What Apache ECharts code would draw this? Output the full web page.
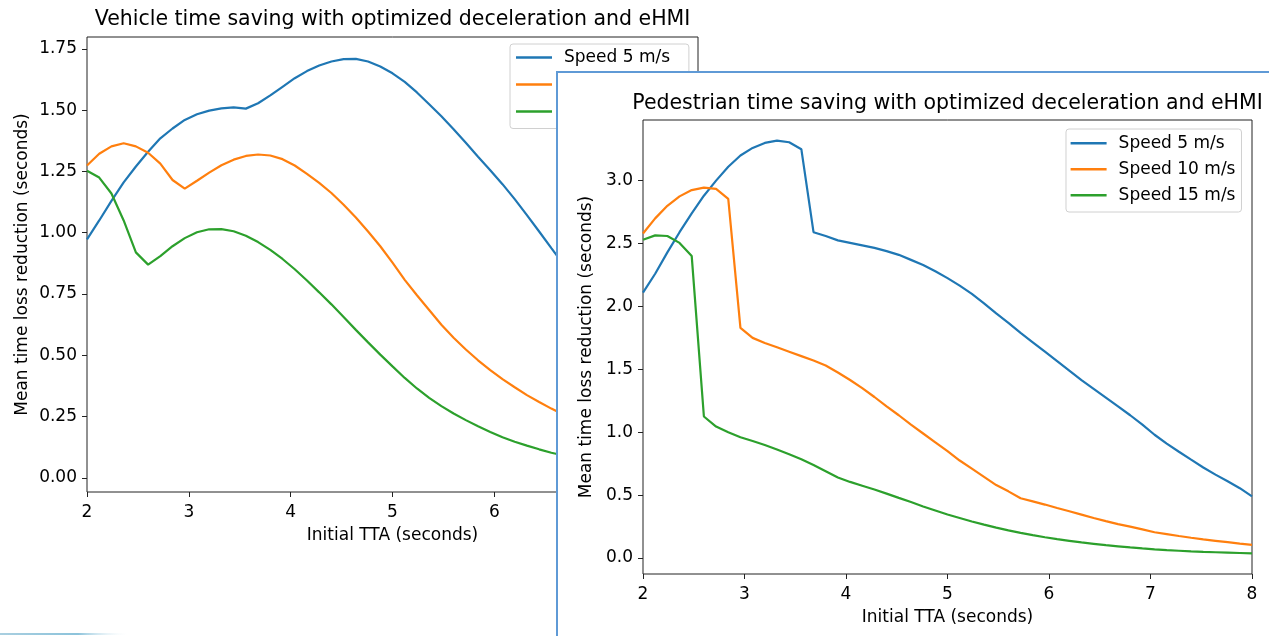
<!DOCTYPE html>
<html>
<head>
<meta charset="utf-8">
<script src="https://cdn.jsdelivr.net/npm/echarts@6/dist/echarts.min.js"></script>
<style>
  html, body { margin: 0; padding: 0; background: #fff; width: 1269px; height: 636px; overflow: hidden; }
  #left { position: absolute; left: 0; top: 0; width: 1269px; height: 636px; }
  #box { position: absolute; left: 556px; top: 71px; width: 713px; height: 565px; box-sizing: border-box;
         border-left: 2px solid #5f9ad6; border-top: 2px solid #5f9ad6; background: #fff; }
  #right { position: absolute; left: 558px; top: 73px; width: 711px; height: 563px; }
</style>
</head>
<body>
<div id="left"></div>
<div id="box"></div>
<div id="right"></div>
<script>
// Initial TTA (seconds)
const tta = [2.00, 2.12, 2.24, 2.36, 2.48, 2.60, 2.72, 2.84, 2.96, 3.08, 3.20, 3.32, 3.44, 3.56, 3.68, 3.80, 3.92,
  4.04, 4.16, 4.28, 4.40, 4.52, 4.64, 4.76, 4.88, 5.00, 5.12, 5.24, 5.36, 5.48, 5.60, 5.72, 5.84, 5.96,
  6.08, 6.20, 6.32, 6.44, 6.56, 6.68, 6.80, 6.92, 7.04, 7.16, 7.28, 7.40, 7.52, 7.64, 7.76, 7.88, 8.00];

const seriesNames = ['Speed 5 m/s', 'Speed 10 m/s', 'Speed 15 m/s'];
const seriesColors = ['#1f77b4', '#ff7f0e', '#2ca02c'];

// Vehicle time saving
const vehSpeed5 = [0.973, 1.05, 1.13, 1.205, 1.27, 1.33, 1.385, 1.425, 1.46, 1.483, 1.498, 1.507, 1.511, 1.506, 1.528, 1.560, 1.595,
  1.630, 1.659, 1.682, 1.698, 1.708, 1.709, 1.698, 1.678, 1.650, 1.615, 1.572, 1.524, 1.475, 1.422, 1.367, 1.310, 1.255,
  1.198, 1.137, 1.072, 1.005, 0.937, 0.870, 0.805, 0.745, 0.685, 0.630, 0.578, 0.530, 0.485, 0.445, 0.408, 0.375, 0.345];
const vehSpeed10 = [1.274, 1.322, 1.352, 1.365, 1.352, 1.326, 1.282, 1.215, 1.180, 1.212, 1.245, 1.275, 1.298, 1.313, 1.319, 1.315, 1.300,
  1.274, 1.240, 1.203, 1.162, 1.114, 1.062, 1.005, 0.945, 0.878, 0.808, 0.745, 0.685, 0.625, 0.572, 0.524, 0.480, 0.440,
  0.403, 0.370, 0.338, 0.310, 0.283, 0.258, 0.236, 0.216, 0.198, 0.182, 0.168, 0.155, 0.143, 0.133, 0.124, 0.116, 0.108];
const vehSpeed15 = [1.253, 1.225, 1.160, 1.050, 0.920, 0.870, 0.905, 0.945, 0.978, 1.002, 1.014, 1.015, 1.006, 0.988, 0.962, 0.930, 0.893,
  0.851, 0.805, 0.757, 0.708, 0.656, 0.604, 0.553, 0.503, 0.455, 0.408, 0.365, 0.327, 0.293, 0.263, 0.236, 0.211, 0.188,
  0.166, 0.148, 0.132, 0.117, 0.103, 0.092, 0.082, 0.073, 0.066, 0.059, 0.053, 0.048, 0.044, 0.040, 0.037, 0.034, 0.031];

// Pedestrian time saving
const pedSpeed5 = [2.11, 2.26, 2.43, 2.59, 2.74, 2.88, 3.00, 3.11, 3.20, 3.26, 3.30, 3.318, 3.305, 3.25, 2.59, 2.56, 2.525,
  2.505, 2.485, 2.465, 2.44, 2.41, 2.37, 2.33, 2.28, 2.225, 2.165, 2.10, 2.025, 1.945, 1.87, 1.79, 1.715, 1.64,
  1.565, 1.49, 1.415, 1.345, 1.275, 1.205, 1.135, 1.06, 0.98, 0.91, 0.845, 0.782, 0.72, 0.663, 0.61, 0.555, 0.49];
const pedSpeed10 = [2.58, 2.70, 2.80, 2.875, 2.925, 2.945, 2.935, 2.855, 1.83, 1.75, 1.71, 1.675, 1.64, 1.605, 1.57, 1.53, 1.475,
  1.415, 1.35, 1.28, 1.205, 1.135, 1.06, 0.99, 0.92, 0.85, 0.775, 0.71, 0.645, 0.58, 0.53, 0.475, 0.45, 0.425,
  0.398, 0.372, 0.345, 0.318, 0.293, 0.27, 0.25, 0.228, 0.205, 0.19, 0.175, 0.161, 0.148, 0.137, 0.126, 0.115, 0.105];
const pedSpeed15 = [2.53, 2.565, 2.56, 2.505, 2.40, 1.125, 1.045, 1.0, 0.96, 0.93, 0.898, 0.862, 0.825, 0.785, 0.74, 0.69, 0.64,
  0.605, 0.575, 0.545, 0.512, 0.478, 0.445, 0.41, 0.378, 0.346, 0.318, 0.29, 0.265, 0.242, 0.22, 0.2, 0.182, 0.165,
  0.15, 0.137, 0.124, 0.113, 0.102, 0.093, 0.084, 0.076, 0.069, 0.063, 0.058, 0.053, 0.049, 0.046, 0.043, 0.040, 0.037];

// Tick labels
const xTicks = [2, 3, 4, 5, 6, 7, 8];
const vehYTicks = [0, 0.25, 0.5, 0.75, 1.0, 1.25, 1.5, 1.75];
const pedYTicks = [0, 0.5, 1.0, 1.5, 2.0, 2.5, 3.0];

const FONT = "'DejaVu Sans', 'Liberation Sans', sans-serif";
const TICK_FS = 17;

function buildSeries(arrs) {
  return arrs.map((arr, k) => ({
    name: seriesNames[k],
    type: 'line',
    symbol: 'none',
    smooth: false,
    color: seriesColors[k],
    lineStyle: { width: 2.2, color: seriesColors[k] },
    data: tta.map((x, i) => [x, arr[i]])
  }));
}

function buildOption(cfg) {
  return {
    animation: false,
    textStyle: { fontFamily: FONT },
    title: {
      text: cfg.title,
      left: cfg.titleX, top: cfg.titleTop, textAlign: 'center', padding: 0,
      textStyle: { fontFamily: FONT, fontSize: 20.5, fontWeight: 'normal', color: '#000' }
    },
    legend: {
      orient: 'vertical',
      left: cfg.legendLeft, top: cfg.legendTop,
      padding: cfg.legendPadding,
      icon: 'rect',
      itemWidth: 36, itemHeight: 2.4, itemGap: cfg.legendGap,
      backgroundColor: 'rgba(255,255,255,0.8)',
      borderColor: '#d0d0d0', borderWidth: 1, borderRadius: 3,
      textStyle: { fontFamily: FONT, fontSize: TICK_FS, lineHeight: 16, color: '#000', padding: [0, 0, 0, 7] },
      data: seriesNames
    },
    grid: {
      left: cfg.grid.left, top: cfg.grid.top, width: cfg.grid.width, height: cfg.grid.height,
      show: true, borderColor: '#222', borderWidth: 1, backgroundColor: 'transparent'
    },
    xAxis: {
      type: 'value', min: 2, max: 8, interval: 1,
      name: 'Initial TTA (seconds)', nameLocation: 'middle', nameGap: cfg.xNameGap,
      nameTextStyle: { fontFamily: FONT, fontSize: TICK_FS, color: '#000' },
      axisLine: { show: false, onZero: false },
      axisTick: { show: true, inside: false, length: 5, lineStyle: { color: '#222', width: 1 }, customValues: xTicks },
      axisLabel: { fontFamily: FONT, fontSize: TICK_FS, color: '#000', margin: 12, customValues: xTicks,
                   formatter: v => String(v) },
      splitLine: { show: false }
    },
    yAxis: {
      type: 'value', min: cfg.yMin, max: cfg.yMax,
      name: 'Mean time loss reduction (seconds)', nameLocation: 'middle', nameGap: cfg.yNameGap,
      nameTextStyle: { fontFamily: FONT, fontSize: TICK_FS, color: '#000' },
      axisLine: { show: false, onZero: false },
      axisTick: { show: true, inside: false, length: 5, lineStyle: { color: '#222', width: 1 }, customValues: cfg.yTicks },
      axisLabel: { fontFamily: FONT, fontSize: TICK_FS, color: '#000', margin: 10, customValues: cfg.yTicks,
                   formatter: v => v.toFixed(cfg.yDigits) },
      splitLine: { show: false }
    },
    graphic: cfg.graphic || [],
    series: buildSeries(cfg.data)
  };
}

const leftChart = echarts.init(document.getElementById('left'), null, { renderer: 'canvas' });
leftChart.setOption(buildOption({
  title: 'Vehicle time saving with optimized deceleration and eHMI',
  titleX: 392.5, titleTop: 9,
  legendLeft: 510, legendTop: 44, legendPadding: [5, 8, 8.5, 6], legendGap: 10,
  grid: { left: 87, top: 37, width: 611, height: 455 },
  xNameGap: 35, yNameGap: 56,
  yMin: -0.057, yMax: 1.798, yTicks: vehYTicks, yDigits: 2,
  data: [vehSpeed5, vehSpeed10, vehSpeed15],
  graphic: [{
    type: 'rect', left: 0, top: 633, shape: { width: 130, height: 2 }, silent: true,
    style: { fill: new echarts.graphic.LinearGradient(0, 0, 1, 0, [
      { offset: 0, color: '#a9cfe0' }, { offset: 0.6, color: '#8cc3db' }, { offset: 1, color: 'rgba(255,255,255,0)' }]) }
  }]
}));

const rightChart = echarts.init(document.getElementById('right'), null, { renderer: 'canvas' });
rightChart.setOption(buildOption({
  title: 'Pedestrian time saving with optimized deceleration and eHMI',
  titleX: 389.5, titleTop: 20,
  legendLeft: 508, legendTop: 56, legendPadding: [5.7, 6, 8.3, 4.6], legendGap: 9,
  grid: { left: 85, top: 47, width: 609, height: 454 },
  xNameGap: 35, yNameGap: 45,
  yMin: -0.127, yMax: 3.482, yTicks: pedYTicks, yDigits: 1,
  data: [pedSpeed5, pedSpeed10, pedSpeed15]
}));
</script>
</body>
</html>
